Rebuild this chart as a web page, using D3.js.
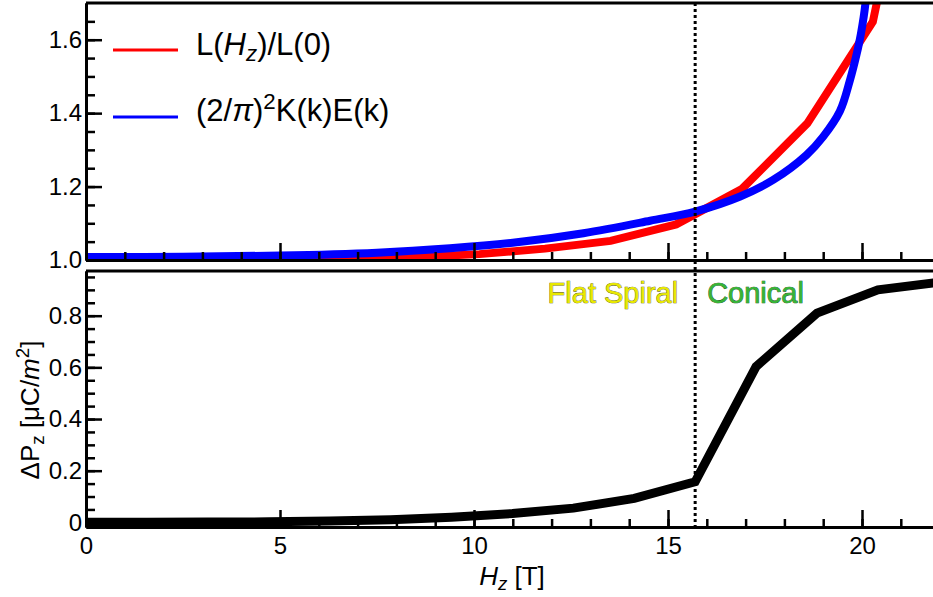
<!DOCTYPE html>
<html>
<head>
<meta charset="utf-8">
<script src="https://cdn.jsdelivr.net/npm/d3@7"></script>
<style>
body { margin: 0; background: #fff; }
text { font-family: "Liberation Sans", Arial, sans-serif; fill: #000; }
.axis path, .axis line { stroke: #000; }
.axis text { font-size: 24px; font-family: "Liberation Sans", Arial, sans-serif; }
</style>
</head>
<body>
<div id="plot"></div>
<script>
// L(Hz)/L(0), sampled every ~1.69 T
var redX = [0, 1.69, 3.38, 5.07, 6.76, 8.45, 10.14, 11.83, 13.52, 15.21, 16.9, 18.59, 20.28, 21.97];
var redY = [1.0, 1.0, 1.001, 1.002, 1.004, 1.008, 1.016, 1.031, 1.052, 1.097, 1.193, 1.372, 1.649, 2.5];

// (2/pi)^2 K(k)E(k)
var blueX = [0, 2.5, 5, 7.5, 9.38, 11, 12.82, 14.54, 15.7, 16.86, 17.71, 18.57, 19.0, 19.43, 19.69, 19.86, 19.97, 20.09, 20.3];
var blueY = [1.008, 1.009, 1.012, 1.02, 1.032, 1.047, 1.073, 1.107, 1.132, 1.173, 1.218, 1.286, 1.336, 1.405, 1.49, 1.56, 1.615, 1.70, 2.0];

// delta Pz, sampled every 1.57 T
var polX = [0, 1.57, 3.14, 4.71, 6.28, 7.85, 9.42, 10.99, 12.56, 14.13, 15.7, 17.27, 18.84, 20.41, 21.98];
var polY = [0, 0, 0.001, 0.002, 0.005, 0.01, 0.02, 0.034, 0.055, 0.093, 0.157, 0.603, 0.81, 0.90, 0.929];

var xTicks = [0, 5, 10, 15, 20];
var topTicks = [1.0, 1.2, 1.4, 1.6];
var botTicks = [0, 0.2, 0.4, 0.6, 0.8];
var transitionH = 15.7;

var w = 933;
var h = 597;

var xScale = d3.scaleLinear().domain([0, 22]).range([86, 86 + 22 * 38.8]);
var yTop = d3.scaleLinear().domain([1.0, 1.7]).range([260, 3]);
var yBot = d3.scaleLinear().domain([-0.018, 0.973]).range([527, 271]);

var svg = d3.select("#plot").append("svg").attr("width", w).attr("height", h);

var defs = svg.append("defs");
defs.append("clipPath").attr("id", "clipTop").append("rect")
	.attr("x", xScale(0)).attr("y", yTop.range()[1])
	.attr("width", w - xScale(0)).attr("height", yTop.range()[0] - yTop.range()[1]);
defs.append("clipPath").attr("id", "clipBot").append("rect")
	.attr("x", xScale(0)).attr("y", yBot.range()[1])
	.attr("width", w - xScale(0)).attr("height", yBot.range()[0] - yBot.range()[1]);

var minorX = d3.range(0, 23, 1);
var minorTop = d3.range(1.0, 1.7, 0.05);
var minorBot = d3.range(0, 0.97, 0.05);

function styleAxis(g, width) {
	g.attr("class", "axis");
	g.select(".domain").attr("stroke-width", 3);
	g.selectAll(".tick line").attr("stroke-width", width);
}

// ---- top panel ----
var gTop = svg.append("g");
gTop.append("g").attr("clip-path", "url(#clipTop)")
	.append("path")
	.datum(redX.map(function(d, i) { return [d, redY[i]]; }))
	.attr("d", d3.line().x(function(d) { return xScale(d[0]); }).y(function(d) { return yTop(d[1]); }))
	.attr("fill", "none").attr("stroke", "#ff0000").attr("stroke-width", 8);

gTop.append("g").attr("clip-path", "url(#clipTop)")
	.append("path")
	.datum(blueX.map(function(d, i) { return [d, blueY[i]]; }))
	.attr("d", d3.line().curve(d3.curveCatmullRom.alpha(0.5)).x(function(d) { return xScale(d[0]); }).y(function(d) { return yTop(d[1]); }))
	.attr("fill", "none").attr("stroke", "#0000ff").attr("stroke-width", 8);

// minor ticks
gTop.append("g").attr("transform", "translate(0," + yTop(1.0) + ")")
	.call(d3.axisBottom(xScale).tickValues(minorX).tickSize(-8).tickSizeOuter(0).tickFormat(""))
	.call(styleAxis, 2.5);
gTop.append("g").attr("transform", "translate(0," + yTop(1.0) + ")")
	.call(d3.axisBottom(xScale).tickValues(xTicks).tickSize(-17).tickSizeOuter(0).tickFormat(""))
	.call(styleAxis, 2.5);
gTop.append("g").attr("transform", "translate(" + xScale(0) + ",0)")
	.call(d3.axisLeft(yTop).tickValues(minorTop).tickSize(-9).tickSizeOuter(0).tickFormat(""))
	.call(styleAxis, 2.5);
gTop.append("g").attr("transform", "translate(" + xScale(0) + ",0)")
	.call(d3.axisLeft(yTop).tickValues(topTicks).tickSize(-16).tickSizeOuter(0).tickPadding(4).tickFormat(d3.format(".1f")))
	.call(styleAxis, 2.5);
gTop.append("line")
	.attr("x1", xScale(0)).attr("x2", w)
	.attr("y1", yTop.range()[1]).attr("y2", yTop.range()[1])
	.attr("stroke", "#000").attr("stroke-width", 3);

// legend
var legend = [
	{ color: "#ff0000", y: 50 },
	{ color: "#0000ff", y: 117 }
];
svg.selectAll(".legline").data(legend).enter().append("line")
	.attr("x1", 113).attr("x2", 178)
	.attr("y1", function(d) { return d.y; }).attr("y2", function(d) { return d.y; })
	.attr("stroke", function(d) { return d.color; }).attr("stroke-width", 3);

var t1 = svg.append("text").attr("x", 196).attr("y", 55).attr("font-size", 31);
t1.append("tspan").text("L(");
t1.append("tspan").attr("font-style", "italic").text("H");
t1.append("tspan").attr("font-style", "italic").attr("font-size", "0.72em").attr("dy", 6).text("z");
t1.append("tspan").attr("dy", -6).text(")/L(0)");

var t2 = svg.append("text").attr("x", 196).attr("y", 121).attr("font-size", 31);
t2.append("tspan").text("(2/");
t2.append("tspan").attr("font-style", "italic").text("\u03c0");
t2.append("tspan").text(")");
t2.append("tspan").attr("font-size", "0.72em").attr("dy", -12).text("2");
t2.append("tspan").attr("dy", 12).text("K(k)E(k)");

// ---- bottom panel ----
var gBot = svg.append("g");
gBot.append("g").attr("clip-path", "url(#clipBot)")
	.append("path")
	.datum(polX.map(function(d, i) { return [d, polY[i]]; }))
	.attr("d", d3.line().x(function(d) { return xScale(d[0]); }).y(function(d) { return yBot(d[1]); }))
	.attr("fill", "none").attr("stroke", "#000").attr("stroke-width", 9);

gBot.append("g").attr("transform", "translate(0," + yBot.range()[0] + ")")
	.call(d3.axisBottom(xScale).tickValues(minorX).tickSize(-8).tickSizeOuter(0).tickFormat(""))
	.call(styleAxis, 2.5);
gBot.append("g").attr("transform", "translate(0," + yBot.range()[0] + ")")
	.call(d3.axisBottom(xScale).tickValues(xTicks).tickSize(-17).tickSizeOuter(0).tickPadding(10))
	.call(styleAxis, 2.5);
gBot.append("g").attr("transform", "translate(" + xScale(0) + ",0)")
	.call(d3.axisLeft(yBot).tickValues(minorBot).tickSize(-9).tickSizeOuter(0).tickFormat(""))
	.call(styleAxis, 2.5);
gBot.append("g").attr("transform", "translate(" + xScale(0) + ",0)")
	.call(d3.axisLeft(yBot).tickValues(botTicks).tickSize(-16).tickSizeOuter(0).tickPadding(4)
		.tickFormat(function(d) { return d === 0 ? "0" : d3.format(".1f")(d); }))
	.call(styleAxis, 2.5);
gBot.append("line")
	.attr("x1", xScale(0)).attr("x2", w)
	.attr("y1", yBot.range()[1]).attr("y2", yBot.range()[1])
	.attr("stroke", "#000").attr("stroke-width", 3);

// phase labels
svg.append("text")
	.attr("x", xScale(transitionH) - 17).attr("y", yBot(0.85))
	.attr("text-anchor", "end").attr("font-size", 29)
	.attr("stroke", "#4d4d0a").attr("stroke-width", 0.7).attr("paint-order", "stroke")
	.style("fill", "#e8e800")
	.text("Flat Spiral");
svg.append("text")
	.attr("x", xScale(transitionH) + 12).attr("y", yBot(0.85))
	.attr("font-size", 29)
	.attr("stroke", "#0d3d0d").attr("stroke-width", 0.7).attr("paint-order", "stroke")
	.style("fill", "#37b437")
	.text("Conical");

// transition line
svg.append("line")
	.attr("x1", xScale(transitionH)).attr("x2", xScale(transitionH))
	.attr("y1", yTop.range()[1]).attr("y2", yBot.range()[0] + 2)
	.attr("stroke", "#000").attr("stroke-width", 3).attr("stroke-dasharray", "3,3");

// axis titles
var xl = svg.append("text").attr("x", 512).attr("y", 585).attr("text-anchor", "middle").attr("font-size", 26);
xl.append("tspan").attr("font-style", "italic").text("H");
xl.append("tspan").attr("font-style", "italic").attr("font-size", "0.72em").attr("dy", 5).text("z");
xl.append("tspan").attr("dy", -5).text(" [T]");

var yl = svg.append("text").attr("transform", "translate(39,410) rotate(-90)").attr("text-anchor", "middle").attr("font-size", 26);
yl.append("tspan").text("\u0394P");
yl.append("tspan").attr("font-size", "0.72em").attr("dy", 5).text("z");
yl.append("tspan").attr("dy", -5).text(" [\u03bcC/");
yl.append("tspan").attr("font-style", "italic").text("m");
yl.append("tspan").attr("font-size", "0.72em").attr("dy", -10).text("2");
yl.append("tspan").attr("dy", 10).text("]");
</script>
</body>
</html>
